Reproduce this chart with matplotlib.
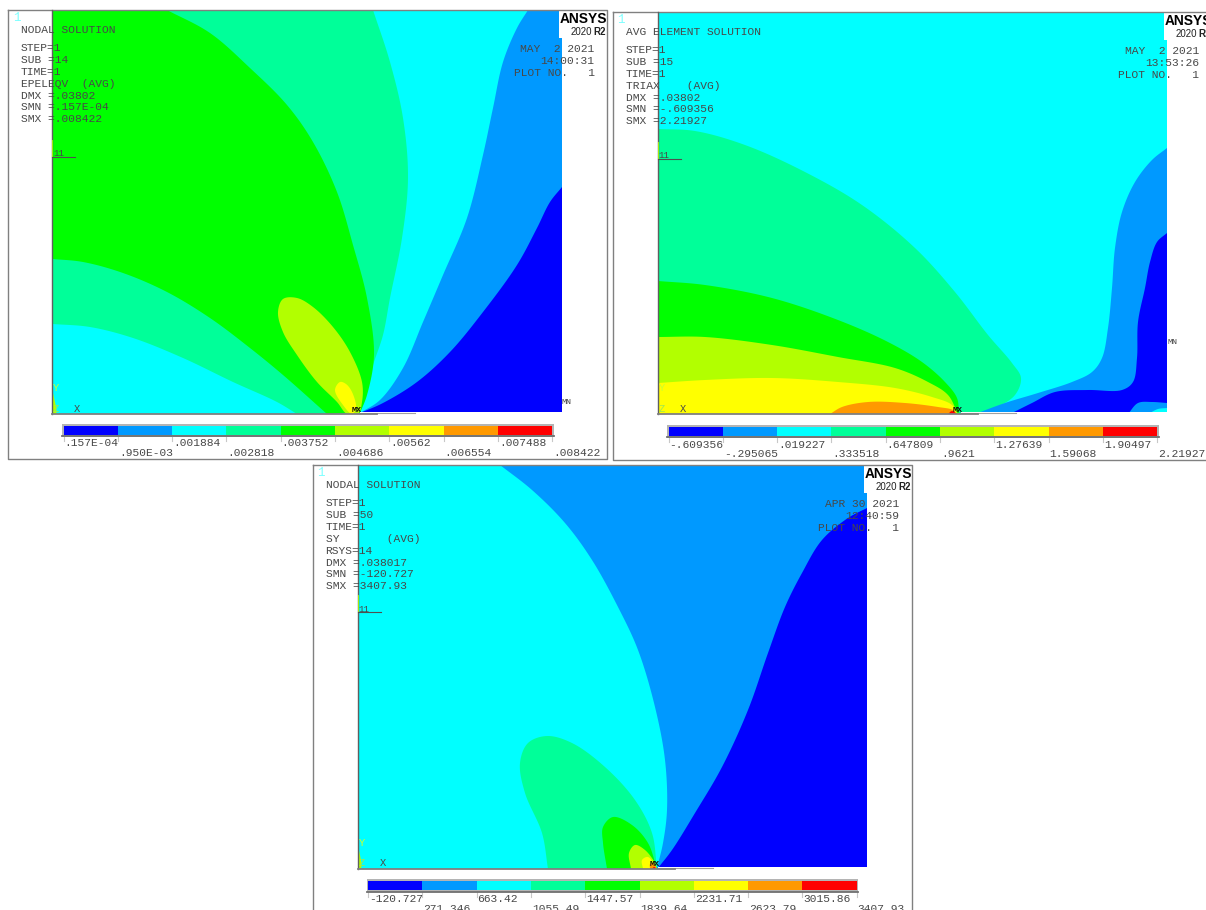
"""Three ANSYS contour plots laid out on one sheet."""

import numpy as np
import matplotlib
matplotlib.use("Agg")
import matplotlib.pyplot as plt
from matplotlib.patches import Polygon, Rectangle

W, H = 1206, 910

BLUE = "#0000ff"
AZURE = "#0099ff"
CYAN = "#00ffff"
TEAL = "#00ff99"
GREEN = "#00ff00"
LIME = "#b2ff00"
YELLOW = "#ffff00"
ORANGE = "#ff9900"
RED = "#ff0000"
BAR_COLOURS = [BLUE, AZURE, CYAN, TEAL, GREEN, LIME, YELLOW, ORANGE, RED]

# legend labels
labels_1 = [".157E-04", ".950E-03", ".001884", ".002818", ".003752",
            ".004686", ".00562", ".006554", ".007488", ".008422"]
labels_2 = ["-.609356", "-.295065", ".019227", ".333518", ".647809",
            ".9621", "1.27639", "1.59068", "1.90497", "2.21927"]
labels_3 = ["-120.727", "271.346", "663.42", "1055.49", "1447.57",
            "1839.64", "2231.71", "2623.79", "3015.86", "3407.93"]

# header blocks
head_1 = ["STEP=1", "SUB =14", "TIME=1", "EPELEQV  (AVG)", "DMX =.03802",
          "SMN =.157E-04", "SMX =.008422"]
head_2 = ["STEP=1", "SUB =15", "TIME=1", "TRIAX    (AVG)", "DMX =.03802",
          "SMN =-.609356", "SMX =2.21927"]
head_3 = ["STEP=1", "SUB =50", "TIME=1", "SY       (AVG)", "RSYS=14",
          "DMX =.038017", "SMN =-120.727", "SMX =3407.93"]
stamp_1 = ["MAY  2 2021", "14:00:31", "PLOT NO.   1"]
stamp_2 = ["MAY  2 2021", "13:53:26", "PLOT NO.   1"]
stamp_3 = ["APR 30 2021", "12:40:59", "PLOT NO.   1"]

# contour boundaries, sheet pixels
p1_azure = [(528, 10), (517, 28), (503, 62), (493, 108), (483, 155), (467, 218),
            (443, 275), (423, 322), (403, 368), (380, 400), (360, 413)]
p1_blue = [(562, 187), (550, 202), (537, 228), (517, 265), (483, 312), (450, 352),
           (417, 382), (383, 403), (360, 413)]
p1_teal_right = [(373, 10), (390, 62), (403, 118), (408, 178), (402, 238), (390, 298),
                 (383, 335), (373, 365), (362, 402), (360, 413)]
p1_teal_low = [(53, 324), (90, 327), (133, 338), (183, 358), (233, 382), (277, 402),
               (297, 414)]
p1_green_right = [(167, 10), (210, 33), (250, 68), (287, 105), (313, 142), (337, 192),
                  (353, 245), (367, 298), (374, 355), (367, 395), (360, 413)]
p1_green_low = [(53, 259), (83, 262), (123, 273), (167, 292), (210, 318), (250, 348),
                (283, 375), (327, 414)]
p1_lime = [(278, 312), (283, 299), (297, 298), (313, 307), (333, 327), (350, 352),
           (362, 382), (362, 402), (358, 414), (347, 414), (337, 402), (317, 382),
           (297, 355), (283, 332)]
p1_yellow = [(335, 390), (340, 382), (346, 384), (352, 392), (356, 408), (352, 414),
             (343, 405)]

p2_teal = [(658, 129), (695, 131), (745, 145), (805, 172), (862, 205), (915, 248),
           (955, 292), (988, 335), (1012, 363), (1021, 378), (1015, 395), (995, 408),
           (975, 414)]
p2_green = [(658, 281), (705, 285), (772, 298), (838, 320), (888, 342), (922, 362),
            (945, 382), (957, 398), (959, 414)]
p2_lime = [(658, 337), (705, 337), (772, 345), (838, 357), (895, 368), (928, 382),
           (948, 395), (958, 414)]
p2_yellow = [(658, 383), (705, 380), (772, 378), (838, 382), (895, 388), (932, 397),
             (952, 405), (957, 414)]
p2_orange = [(830, 414), (842, 407), (868, 402), (905, 403), (938, 407), (953, 410),
             (957, 414)]
p2_red = [(948, 414), (952, 411), (957, 414)]
p2_azure = [(1167, 148), (1152, 160), (1135, 182), (1122, 212), (1115, 248), (1112, 288),
            (1108, 328), (1102, 358), (1092, 372), (1072, 382), (1038, 393), (1005, 403),
            (975, 414)]
p2_blue = [(1167, 233), (1157, 242), (1150, 262), (1145, 288), (1138, 322), (1137, 358),
           (1133, 382), (1122, 390), (1088, 390), (1055, 392), (1032, 403), (1010, 414)]
p2_blob = [(1128, 414), (1138, 403), (1152, 402), (1167, 403)]
p2_blob_core = [(1148, 414), (1158, 409), (1167, 408)]

p3_azure = [(500, 465), (532, 490), (565, 523), (592, 560), (618, 607), (638, 650),
            (655, 707), (665, 760), (667, 810), (663, 843), (657, 868)]
p3_blue = [(867, 508), (848, 518), (822, 540), (802, 573), (785, 607), (768, 653),
           (748, 710), (722, 767), (695, 813), (672, 850), (658, 868)]
p3_teal = [(548, 869), (542, 833), (525, 793), (520, 763), (528, 743), (547, 736),
           (572, 743), (605, 767), (635, 800), (652, 833), (657, 869)]
p3_green = [(607, 869), (603, 843), (603, 827), (613, 817), (632, 825), (648, 843),
            (657, 869)]
p3_lime = [(631, 869), (629, 853), (635, 845), (645, 850), (655, 863), (657, 869)]
p3_yellow = [(643, 869), (642, 860), (648, 857), (657, 869)]
p3_orange = [(650, 869), (650, 864), (653, 863), (657, 869)]
p3_red = [(652, 869), (654, 867), (657, 869)]

FONT = "Liberation Mono"
INK = "#484848"
EDGE = "#808080"


def smooth(points, closed=False, steps=12):
    """Centripetal Catmull-Rom through the read points, so no faceting or wiggle."""
    pts = np.asarray(points, dtype=float)
    if len(pts) < 3:
        return pts
    if closed:
        pts = np.vstack([pts[-1], pts, pts[0], pts[1]])
    else:
        pts = np.vstack([2 * pts[0] - pts[1], pts, 2 * pts[-1] - pts[-2]])
    out = []
    for i in range(1, len(pts) - 2):
        p0, p1, p2, p3 = pts[i - 1], pts[i], pts[i + 1], pts[i + 2]
        t1 = np.linalg.norm(p1 - p0) ** 0.5
        t2 = t1 + np.linalg.norm(p2 - p1) ** 0.5
        t3 = t2 + np.linalg.norm(p3 - p2) ** 0.5
        for t in np.linspace(t1, t2, steps, endpoint=False):
            a1 = p0 + (p1 - p0) * t / t1
            a2 = p1 + (p2 - p1) * (t - t1) / (t2 - t1)
            a3 = p2 + (p3 - p2) * (t - t2) / (t3 - t2)
            b1 = a1 + (a2 - a1) * t / t2
            b2 = a2 + (a3 - a2) * (t - t1) / (t3 - t1)
            out.append(b1 + (b2 - b1) * (t - t1) / (t2 - t1))
    out.append(pts[-2])
    return np.array(out)


def paint(ax, clip, colour, *parts, closed=False):
    verts = np.vstack([smooth(part, closed=closed) for part in parts])
    patch = Polygon(verts, closed=True, facecolor=colour, edgecolor="none", zorder=2)
    ax.add_patch(patch)
    patch.set_clip_path(clip)


def scribble(ax, x, y, text, colour=INK, size=8.1, **kw):
    ax.text(x, y, text, family=FONT, fontsize=size, color=colour, va="center",
            ha=kw.pop("ha", "left"), zorder=6, clip_on=True, **kw)


def furniture(ax, frame, plot, tip, title, head, stamp, labels, bar):
    left, top, right, bottom = frame
    x0, y0, x1, y1 = plot

    # white strip under the lower right part of the model
    ax.add_patch(Rectangle((tip + 3, y1 - 1.6), x1 + 3 - tip, 3, facecolor="white",
                           edgecolor="none", zorder=3))
    ax.plot([left, right, right, left, left], [top, top, bottom, bottom, top],
            color=EDGE, lw=1.0, zorder=5, clip_on=True)
    ax.plot([x0, x0], [y0, y1], color="#606060", lw=1.0, zorder=5)
    ax.plot([x0, tip + 20], [y1, y1], color=EDGE, lw=1.3, zorder=5)
    ax.plot([tip, tip + 58], [y1 - 1, y1 - 1], color="#a0a0a0", lw=0.8, zorder=3)

    # ANSYS logo box
    ax.add_patch(Rectangle((x1 - 3, y0), 47, 28, facecolor="white", edgecolor="none", zorder=4))
    ax.text(x1 - 1.5, y0 + 9, "ANSYS", family="Liberation Sans", weight="bold", fontsize=9.9,
            color="black", va="center", ha="left", zorder=7, clip_on=True)
    ax.text(x1 + 9.5, y0 + 22, "2020", family="Liberation Sans", fontsize=7,
            color="#222222", va="center", ha="left", zorder=7, clip_on=True)
    ax.text(x1 + 31.5, y0 + 22, "R2", family="Liberation Sans", weight="bold", fontsize=7,
            color="#222222", va="center", ha="left", zorder=7, clip_on=True)

    scribble(ax, left + 5, top + 8, "1", colour="#7fffff", size=9)
    scribble(ax, left + 13, y0 + 20, title)
    for i, line in enumerate(head):
        scribble(ax, left + 13, y0 + 38 + 11.9 * i, line)
    for i, line in enumerate(stamp):
        scribble(ax, x1 + 33, y0 + 39 + 11.8 * i, line, ha="right")

    # node marker and triad
    scribble(ax, x0 + 1, y0 + 144, "11", size=6.6)
    ax.plot([x0, x0 + 23], [y0 + 146.5, y0 + 146.5], color="#505050", lw=0.8, zorder=6)
    ax.plot([x0, x0], [y0 + 130, y0 + 146], color=LIME, lw=0.6, zorder=6)
    scribble(ax, x0 + 1, y1 - 26, "Y", colour="#c8ff30", size=7.5)
    scribble(ax, x0 + 1, y1 - 5, "Z", colour="#a0e850", size=7.5)
    scribble(ax, x0 + 22, y1 - 5, "X", size=7.5)
    scribble(ax, tip - 5, y1 - 3.5, "MX", colour="#101010", size=6, weight="bold")

    # contour legend
    bx0, by0, step = bar
    edges = bx0 + step * np.arange(len(BAR_COLOURS) + 1)
    ax.add_patch(Rectangle((bx0 - 1.5, by0 - 1.5), step * 9 + 3, 13, facecolor="#b4b4b4",
                           edgecolor="none", zorder=2))
    ax.plot([bx0 - 1.5, edges[-1] + 1.5], [by0 + 11, by0 + 11], color="#707070", lw=1.3, zorder=3)
    ax.bar(edges[:-1], 9, width=step, bottom=by0 + 0.5, align="edge", color=BAR_COLOURS,
           linewidth=0, zorder=4)
    for i, text in enumerate(labels):
        ax.plot([edges[i], edges[i]], [by0 + 11, by0 + 16], color="#c8c8c8", lw=0.8, zorder=2)
        scribble(ax, edges[i] + 1, by0 + (18.5 if i % 2 == 0 else 28), text)


fig = plt.figure(figsize=(W / 100, H / 100), dpi=100)
ax = fig.add_axes([0, 0, 1, 1])
ax.set_xlim(0, W)
ax.set_ylim(H, 0)
ax.axis("off")


def plot_area(x0, y0, x1, y1):
    rect = Rectangle((x0, y0), x1 - x0, y1 - y0, facecolor=CYAN, edgecolor="none", zorder=1)
    ax.add_patch(rect)
    return rect


# first plot
clip = plot_area(52, 10, 561.5, 414)
paint(ax, clip, AZURE, p1_azure, [(600, 420), (600, 0)])
paint(ax, clip, BLUE, p1_blue, [(600, 420), (600, 187)])
paint(ax, clip, TEAL, p1_teal_right, p1_teal_low[::-1], [(40, 324), (40, 0), (373, 0)])
paint(ax, clip, GREEN, p1_green_right, p1_green_low[::-1], [(40, 259), (40, 0), (167, 0)])
paint(ax, clip, LIME, p1_lime, closed=True)
paint(ax, clip, YELLOW, p1_yellow, closed=True)
paint(ax, clip, LIME, [(52, 388), (56, 414), (52, 414)], closed=False)
furniture(ax, (8, 10, 607, 458.5), (52, 10, 561.5, 414), 357, "NODAL SOLUTION",
          head_1, stamp_1, labels_1, (63.5, 425, 54.3))
scribble(ax, 562, 402.5, "MN", size=6)

# second plot
clip = plot_area(657.5, 12, 1166.5, 414)
for curve, colour in [(p2_teal, TEAL), (p2_green, GREEN), (p2_lime, LIME), (p2_yellow, YELLOW)]:
    end = curve[-1][0]
    paint(ax, clip, colour, curve, [(end, 420), (640, 420), (640, curve[0][1])])
paint(ax, clip, ORANGE, p2_orange, [(957, 420), (830, 420)])
paint(ax, clip, RED, p2_red, [(957, 420), (948, 420)])
paint(ax, clip, AZURE, p2_azure, [(975, 420), (1180, 420), (1180, 148)])
paint(ax, clip, BLUE, p2_blue, [(1010, 420), (1180, 420), (1180, 233)])
paint(ax, clip, AZURE, p2_blob, [(1180, 403), (1180, 420), (1128, 420)])
paint(ax, clip, CYAN, p2_blob_core, [(1180, 408), (1180, 420), (1148, 420)])
furniture(ax, (612.5, 12, 1240, 460), (657.5, 12, 1166.5, 414), 958, "AVG ELEMENT SOLUTION",
          head_2, stamp_2, labels_2, (668.5, 426, 54.3))
scribble(ax, 1167, 343, "MN", size=6)

# third plot
clip = plot_area(357.5, 465, 866.5, 868.5)
paint(ax, clip, AZURE, p3_azure, [(880, 875), (880, 450), (500, 450)])
paint(ax, clip, BLUE, p3_blue, [(880, 875), (880, 508)])
paint(ax, clip, TEAL, p3_teal, [(657, 875), (548, 875)])
paint(ax, clip, GREEN, p3_green, [(657, 875), (607, 875)])
paint(ax, clip, LIME, p3_lime, [(657, 875), (631, 875)])
paint(ax, clip, YELLOW, p3_yellow, [(657, 875), (643, 875)])
paint(ax, clip, ORANGE, p3_orange, [(657, 875), (650, 875)])
paint(ax, clip, RED, p3_red, [(657, 875), (652, 875)])
paint(ax, clip, LIME, [(357.5, 842), (361, 868), (357.5, 868)], closed=False)
furniture(ax, (312.5, 465, 912, 930), (357.5, 465, 866.5, 868.5), 655, "NODAL SOLUTION",
          head_3, stamp_3, labels_3, (368, 880.5, 54.3))

fig.savefig("out.png", dpi=100, facecolor="white")
